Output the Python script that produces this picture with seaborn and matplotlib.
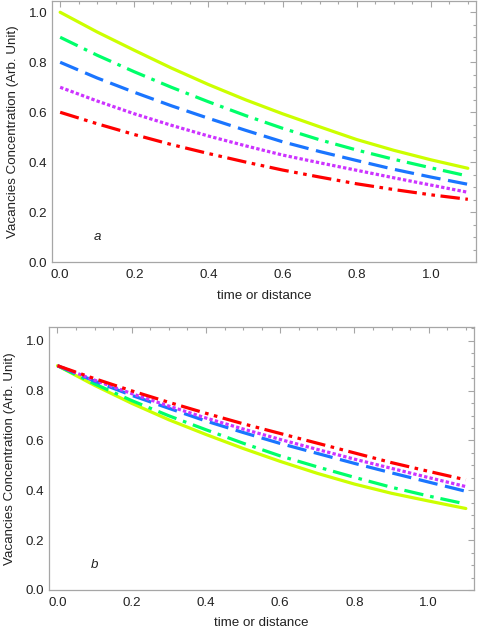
import numpy as np
import pandas as pd
import matplotlib
matplotlib.use("Agg")
import matplotlib.pyplot as plt
import seaborn as sns
from matplotlib.ticker import MultipleLocator

# ---- data ----
t = [0.0, 0.1, 0.2, 0.3, 0.4, 0.5, 0.6, 0.7, 0.8, 0.9, 1.0, 1.1]

a_yellow = [1.000, 0.921, 0.848, 0.777, 0.711, 0.650, 0.594, 0.542, 0.491, 0.448, 0.410, 0.376]
a_green = [0.900, 0.828, 0.762, 0.700, 0.642, 0.587, 0.536, 0.490, 0.449, 0.412, 0.378, 0.345]
a_blue = [0.800, 0.737, 0.680, 0.626, 0.576, 0.528, 0.482, 0.443, 0.407, 0.372, 0.341, 0.312]
a_magenta = [0.700, 0.645, 0.594, 0.548, 0.505, 0.466, 0.429, 0.398, 0.368, 0.338, 0.309, 0.280]
a_red = [0.600, 0.554, 0.511, 0.471, 0.435, 0.401, 0.369, 0.341, 0.314, 0.291, 0.270, 0.252]

b_yellow = [0.900, 0.821, 0.749, 0.683, 0.624, 0.568, 0.516, 0.468, 0.425, 0.388, 0.357, 0.327]
b_green = [0.900, 0.827, 0.760, 0.699, 0.643, 0.589, 0.538, 0.494, 0.452, 0.412, 0.377, 0.345]
b_blue = [0.900, 0.838, 0.781, 0.729, 0.678, 0.632, 0.588, 0.548, 0.508, 0.470, 0.433, 0.396]
b_magenta = [0.900, 0.842, 0.788, 0.738, 0.690, 0.646, 0.604, 0.564, 0.525, 0.488, 0.451, 0.415]
b_red = [0.900, 0.848, 0.799, 0.753, 0.709, 0.667, 0.628, 0.589, 0.550, 0.511, 0.476, 0.442]

curve_names = ["yellow", "green", "blue", "magenta", "red"]
x_ticks = [0.0, 0.2, 0.4, 0.6, 0.8, 1.0]
y_ticks = [0.0, 0.2, 0.4, 0.6, 0.8, 1.0]
x_label = "time or distance"
y_label = "Vacancies Concentration (Arb. Unit)"
panel_labels = ["a", "b"]

palette = {"yellow": "#ccff00", "green": "#00ff6a", "blue": "#1a75ff",
           "magenta": "#cc33ff", "red": "#ff0000"}
dash_map = {"yellow": "", "green": (14, 5, 2.6, 5), "blue": (14, 5.5),
            "magenta": (2.4, 1.6), "red": (14, 4, 2.6, 4, 2.6, 4)}

sns.set_theme(style="white")
plt.rcParams["font.family"] = ["Liberation Sans", "DejaVu Sans"]
plt.rcParams["lines.scale_dashes"] = False


def make_df(series):
    rows = []
    for name, vals in zip(curve_names, series):
        for tt, v in zip(t, vals):
            rows.append({"t": tt, "c": v, "curve": name})
    return pd.DataFrame(rows)


df_a = make_df([a_yellow, a_green, a_blue, a_magenta, a_red])
df_b = make_df([b_yellow, b_green, b_blue, b_magenta, b_red])

fig = plt.figure(figsize=(4.78, 6.30), dpi=100)
ax_a = fig.add_axes([52 / 478, 1 - 262.3 / 630, (476 - 52) / 478, (262.3 - 1) / 630])
ax_b = fig.add_axes([49.3 / 478, 1 - 590 / 630, (474 - 49.3) / 478, (590 - 327.3) / 630])

frame_col = "#a6a6a6"
text_col = "#222222"
fs = 9.6

for ax, df, lab, ytop in [(ax_a, df_a, panel_labels[0], 1.045), (ax_b, df_b, panel_labels[1], 1.054)]:
    sns.lineplot(data=df, x="t", y="c", hue="curve", style="curve",
                 palette=palette, dashes=dash_map, hue_order=curve_names,
                 style_order=curve_names, linewidth=2.3, legend=False, ax=ax)
    ax.set_xlim(-0.022, 1.122)
    ax.set_ylim(0, ytop)
    ax.set_xticks(x_ticks)
    ax.set_yticks(y_ticks)
    ax.set_xticklabels([f"{v:.1f}" for v in x_ticks])
    ax.set_yticklabels([f"{v:.1f}" for v in y_ticks])
    ax.xaxis.set_minor_locator(MultipleLocator(0.05))
    ax.yaxis.set_minor_locator(MultipleLocator(0.05))
    ax.tick_params(which="both", direction="in", top=True, right=True,
                   color=frame_col, labelcolor=text_col, labelsize=fs, width=0.8)
    ax.tick_params(which="major", length=4.5)
    ax.tick_params(which="minor", length=2.5)
    ax.tick_params(axis="x", which="major", pad=5)
    ax.tick_params(axis="y", which="major", pad=3.5)
    for s in ax.spines.values():
        s.set_color(frame_col)
        s.set_linewidth(0.9)
    ax.set_xlabel(x_label, fontsize=fs, color=text_col, labelpad=6)
    ax.set_ylabel(y_label, fontsize=fs, color=text_col, labelpad=7)
    ax.text(0.1, 0.1, lab, transform=ax.transData, fontsize=fs, style="italic",
            color=text_col, ha="center", va="center")

fig.savefig("out.png", dpi=100)
